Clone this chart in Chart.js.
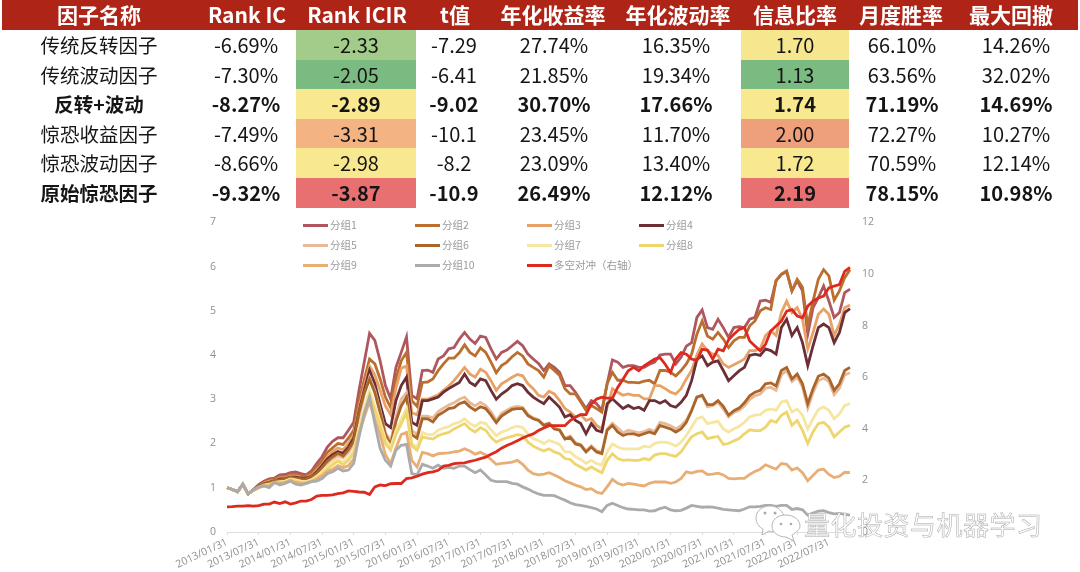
<!DOCTYPE html>
<html>
<head>
<meta charset="utf-8">
<title>因子表现</title>
<script src="https://cdn.jsdelivr.net/npm/chart.js@4"></script>
<style>
html, body { margin: 0; padding: 0; background: #fff; width: 1080px; height: 572px; overflow: hidden; font-family: "Noto Sans CJK SC", "Noto Sans", sans-serif; }
#stage { position: relative; width: 1080px; height: 572px; }
#header { position: absolute; left: 2px; top: 0; width: 1076px; height: 30px; background: #ae2417; }
.cell { position: absolute; width: 200px; text-align: center; color: #151515; font-size: 20px; white-space: nowrap; filter: blur(0.25px); }
.name { font-size: 19.5px; }
.head { color: #fff; font-weight: 700; font-size: 21px; line-height: 29px; top: 0; }
.bold { font-weight: 700; }
.fill { position: absolute; }
#chartBox { position: absolute; left: 170px; top: 212px; width: 730px; height: 360px; filter: blur(0.45px); }
.legLine { position: absolute; width: 25px; height: 3px; }
.legText { position: absolute; font-size: 10.5px; line-height: 14px; color: #9a9a9a; white-space: nowrap; }
#mark { position: absolute; left: 804px; top: 506px; font-size: 26px; line-height: 36px; letter-spacing: 0.5px; color: #fff; -webkit-text-stroke: 0.5px #a8a8a8; white-space: nowrap; }
#wechat { position: absolute; left: 754px; top: 503px; }
</style>
</head>
<body>
<div id="stage">
  <div id="header"></div>
  <div id="chartBox"><canvas id="factorChart" width="730" height="360"></canvas></div>
  <svg id="wechat" width="50" height="42" viewBox="0 0 50 42">
    <path d="M16 3 C6 3 2 10 2 15 C2 20 5 24 9 26 L8 32 L15 28 C18 29 21 28 24 27 C36 20 30 3 16 3 Z" fill="#fff" stroke="#b5b5b5"/>
    <path d="M32 12 C22 12 18 18 18 23 C18 30 25 34 32 34 L40 38 L38 32 C43 29 46 26 46 23 C46 17 40 12 32 12 Z" fill="#fff" stroke="#b5b5b5"/>
    <circle cx="11" cy="10" r="1.5" fill="#aaa"/><circle cx="21" cy="10" r="1.5" fill="#aaa"/>
    <circle cx="27" cy="21" r="1.3" fill="#aaa"/><circle cx="37" cy="21" r="1.3" fill="#aaa"/>
  </svg>
  <div id="mark">量化投资与机器学习</div>
</div>
<script>
// table
const tableHeaders = ['因子名称', 'Rank IC', 'Rank ICIR', 't值', '年化收益率', '年化波动率', '信息比率', '月度胜率', '最大回撤'];
const factorNames = ['传统反转因子', '传统波动因子', '反转+波动', '惊恐收益因子', '惊恐波动因子', '原始惊恐因子'];
const rankIC = ['-6.69%', '-7.30%', '-8.27%', '-7.49%', '-8.66%', '-9.32%'];
const rankICIR = ['-2.33', '-2.05', '-2.89', '-3.31', '-2.98', '-3.87'];
const tValues = ['-7.29', '-6.41', '-9.02', '-10.1', '-8.2', '-10.9'];
const annReturn = ['27.74%', '21.85%', '30.70%', '23.45%', '23.09%', '26.49%'];
const annVol = ['16.35%', '19.34%', '17.66%', '11.70%', '13.40%', '12.12%'];
const infoRatio = ['1.70', '1.13', '1.74', '2.00', '1.72', '2.19'];
const winRate = ['66.10%', '63.56%', '71.19%', '72.27%', '70.59%', '78.15%'];
const maxDrawdown = ['14.26%', '32.02%', '14.69%', '10.27%', '12.14%', '10.98%'];
const boldRows = [2, 5];
const icirColors = ['#a3cc8a', '#7bbb82', '#f8e88f', '#f3b383', '#f8e88f', '#e97070'];
const irColors = ['#f6e78e', '#7bbb82', '#f8e88f', '#ee9f7c', '#f8e88f', '#e97070'];

// chart
const tickYears = [2013, 2014, 2015, 2016, 2017, 2018, 2019, 2020, 2021, 2022];
const seriesNames = ['分组1', '分组2', '分组3', '分组4', '分组5', '分组6', '分组7', '分组8', '分组9', '分组10', '多空对冲（右轴）'];
const seriesColors = ['#b0565e', '#bb6f2e', '#e8a268', '#6b2f35', '#e8b998', '#a9652a', '#f5e6a2', '#efd56d', '#e8ae74', '#ababab', '#dd2a1f'];

const group1 = [1,.96,.91,1.08,.86,.96,1.07,1.15,1.2,1.22,
  1.29,1.3,1.34,1.36,1.32,1.29,1.38,1.55,1.7,1.92,
  2.05,2.13,2.13,2.3,2.48,3.2,3.84,4.49,4.33,3.87,
  3.31,3.01,3.72,4.06,4.41,3.09,3.01,3.65,3.66,3.61,
  3.91,3.98,4.14,4.17,4.36,4.51,4.36,4.26,4.43,4.4,
  4.14,3.91,4.06,4.11,4.21,4.31,4.21,4.02,3.91,3.81,
  3.65,3.8,3.72,3.61,3.31,3.31,3.16,2.97,2.79,2.97,
  2.9,2.75,3.35,3.89,3.84,3.72,3.76,3.76,3.72,3.72,
  3.79,3.84,4,4.02,4.02,3.8,3.95,4.2,4.28,4.85,
  5.02,4.62,4.58,4.81,4.62,4.4,4.62,4.64,4.62,4.81,
  4.85,5.22,5.24,5.19,5.68,5.82,5.88,5.45,5.68,5.45,
  4.47,5.07,5.3,5.56,5.22,4.85,4.96,5.41,5.49];
const group2 = [1,.96,.91,1.08,.86,.95,1.05,1.12,1.17,1.2,
  1.25,1.25,1.3,1.3,1.27,1.26,1.33,1.47,1.6,1.8,
  1.9,2,1.98,2.12,2.3,2.95,3.45,3.91,3.8,3.46,
  3.05,2.81,3.46,3.87,4.06,2.97,2.84,3.38,3.39,3.46,
  3.65,3.8,3.93,3.93,4.05,4.23,4.06,3.98,4.16,4.06,
  3.84,3.6,3.76,3.84,3.96,4.06,3.98,3.8,3.72,3.65,
  3.5,3.76,3.65,3.54,3.24,3.12,3.12,2.94,2.75,2.86,
  2.79,2.71,3.35,3.61,3.43,3.43,3.38,3.38,3.37,3.41,
  3.43,3.35,3.65,3.65,3.61,3.53,3.65,3.8,4.02,4.47,
  4.77,4.43,4.36,4.51,4.36,4.17,4.32,4.4,4.4,4.66,
  4.77,5,5.07,5.03,5.68,5.83,5.9,5.45,5.71,5.53,
  4.66,5.22,5.71,5.93,5.79,5.24,5.45,5.75,5.93];
const group3 = [1,.96,.91,1.07,.86,.95,1.03,1.1,1.15,1.16,
  1.22,1.22,1.26,1.26,1.24,1.23,1.28,1.4,1.52,1.7,
  1.82,1.9,1.86,2,2.2,2.8,3.3,3.75,3.55,3.2,
  2.85,2.65,3.25,3.7,3.75,2.7,2.65,3,3,3.05,
  3.1,3.2,3.3,3.42,3.57,3.72,3.57,3.5,3.68,3.61,
  3.42,3.2,3.35,3.42,3.5,3.56,3.53,3.35,3.24,3.09,
  3.05,3.18,3.12,2.97,2.79,2.71,2.6,2.65,2.52,2.56,
  2.41,2.33,2.82,3.24,3.16,3.09,3.12,3.09,3.09,3.01,
  3.01,3.31,3.31,3.24,3.16,3.12,3.24,3.46,3.65,4,
  4.25,4.1,4.02,3.99,3.8,3.72,3.78,3.84,3.91,4.1,
  4.1,4.14,4.44,4.55,4.44,4.96,5.22,4.96,5.07,4.81,
  4.14,4.51,4.92,5.04,4.92,4.44,4.7,5.07,5.13];
const group4 = [1,.96,.91,1.07,.86,.95,1.03,1.09,1.12,1.15,
  1.2,1.2,1.24,1.24,1.22,1.22,1.26,1.36,1.5,1.65,
  1.75,1.82,1.78,1.92,2.12,2.72,3.2,3.65,3.35,2.89,
  2.45,2.36,2.97,3.31,3.5,2.48,2.41,2.97,2.97,3.01,
  3.05,3.16,3.24,3.31,3.38,3.57,3.38,3.31,3.46,3.42,
  3.2,3,3.12,3.2,3.31,3.35,3.31,3.16,3.05,2.97,
  2.9,3.05,2.94,2.82,2.6,2.65,2.52,2.45,2.22,2.45,
  2.3,2.26,2.9,3.01,2.9,2.79,2.86,2.79,2.82,2.75,
  2.97,2.97,2.91,2.97,2.86,2.82,2.93,3.09,3.42,3.9,
  3.98,3.76,3.84,3.87,3.65,3.42,3.53,3.64,3.72,3.99,
  4.02,3.99,4.14,4.1,4.02,4.62,4.81,4.44,4.62,4.28,
  3.76,4.21,4.62,4.7,4.62,4.28,4.51,4.96,5.05];
const group5 = [1,.96,.91,1.07,.86,.94,1.02,1.07,1.1,1.14,
  1.16,1.17,1.22,1.2,1.18,1.18,1.23,1.3,1.42,1.55,
  1.65,1.72,1.68,1.8,2,2.6,3.1,3.5,3.2,2.75,
  2.25,2.05,2.6,3,3.15,2.3,2.2,2.62,2.62,2.58,
  2.72,2.8,2.87,2.92,3,3.05,2.92,2.85,2.93,2.86,
  2.72,2.52,2.68,2.75,2.82,2.84,2.82,2.66,2.58,2.54,
  2.43,2.46,2.35,2.32,2.12,2.17,2.02,1.98,1.83,1.95,
  1.84,1.8,2.33,2.46,2.35,2.24,2.3,2.27,2.24,2.27,
  2.32,2.27,2.48,2.45,2.4,2.33,2.4,2.53,2.76,3.05,
  3.07,2.83,2.86,2.93,2.78,2.6,2.7,2.75,2.85,3,
  3.08,3.12,3.25,3.27,3.2,3.55,3.65,3.4,3.5,3.28,
  2.8,3.15,3.42,3.48,3.4,3.1,3.25,3.55,3.6];
const group6 = [1,.96,.92,1.07,.86,.95,1.02,1.08,1.12,1.16,
  1.18,1.19,1.24,1.22,1.2,1.2,1.25,1.33,1.46,1.6,
  1.7,1.78,1.72,1.86,2.05,2.7,3.15,3.45,3.15,2.7,
  2.2,1.97,2.5,2.85,3.05,2.2,2.12,2.56,2.56,2.49,
  2.64,2.71,2.79,2.81,2.9,2.94,2.83,2.75,2.83,2.79,
  2.64,2.47,2.62,2.7,2.77,2.79,2.79,2.63,2.56,2.52,
  2.41,2.45,2.33,2.3,2.1,2.14,1.99,1.96,1.81,1.92,
  1.81,1.77,2.3,2.41,2.26,2.18,2.22,2.22,2.18,2.22,
  2.26,2.22,2.41,2.37,2.33,2.26,2.33,2.48,2.74,3.05,
  3.09,2.88,2.88,2.97,2.84,2.64,2.74,2.8,2.92,3.08,
  3.16,3.2,3.35,3.37,3.3,3.65,3.72,3.46,3.57,3.35,
  2.9,3.24,3.52,3.57,3.48,3.2,3.35,3.65,3.72];
const group7 = [1,.96,.91,1.07,.87,.94,1.01,1.06,1.08,1.12,
  1.14,1.15,1.2,1.18,1.15,1.14,1.18,1.26,1.36,1.48,
  1.58,1.65,1.58,1.68,1.85,2.35,2.8,3.2,2.85,2.5,
  2.1,1.92,2.3,2.55,2.8,2,1.92,2.25,2.2,2.2,
  2.3,2.35,2.38,2.45,2.48,2.56,2.45,2.39,2.48,2.45,
  2.31,2.18,2.26,2.3,2.36,2.39,2.36,2.22,2.11,2.07,
  2,2.07,2.03,1.98,1.81,1.81,1.7,1.64,1.55,1.62,
  1.55,1.51,1.81,1.99,1.92,1.88,1.88,1.88,1.88,1.94,
  1.92,2,2.03,2.03,2,1.94,2.03,2.18,2.37,2.56,
  2.6,2.45,2.48,2.5,2.33,2.26,2.33,2.39,2.48,2.6,
  2.64,2.65,2.75,2.78,2.75,2.94,2.97,2.71,2.78,2.64,
  2.33,2.56,2.77,2.83,2.75,2.56,2.67,2.86,2.9];
const group8 = [1,.96,.91,1.07,.87,.94,1,1.05,1.07,1.11,
  1.12,1.13,1.18,1.15,1.12,1.12,1.15,1.22,1.3,1.42,
  1.52,1.6,1.52,1.62,1.78,2.25,2.7,3.1,2.75,2.4,
  2,1.85,2.2,2.45,2.7,1.95,1.85,2.15,2.12,2.1,
  2.18,2.22,2.25,2.33,2.39,2.45,2.33,2.26,2.36,2.3,
  2.14,2.03,2.09,2.13,2.16,2.2,2.18,2.03,1.94,1.88,
  1.83,1.88,1.81,1.77,1.66,1.64,1.53,1.47,1.4,1.47,
  1.4,1.34,1.62,1.77,1.66,1.62,1.63,1.62,1.62,1.66,
  1.63,1.74,1.77,1.77,1.74,1.71,1.81,1.99,2.15,2.22,
  2.26,2.11,2.14,2.16,1.98,2,2.06,2.11,2.22,2.31,
  2.29,2.29,2.37,2.52,2.48,2.64,2.71,2.41,2.52,2.3,
  2,2.26,2.45,2.48,2.37,2.15,2.26,2.37,2.41];
const group9 = [1,.96,.91,1.07,.87,.94,1,1.04,1.05,1.12,
  1.1,1.12,1.17,1.12,1.1,1.1,1.14,1.2,1.27,1.37,
  1.42,1.5,1.45,1.5,1.65,2.2,2.6,2.95,2.55,2.2,
  1.75,1.55,1.9,2.2,2.25,1.62,1.47,1.8,1.77,1.72,
  1.77,1.78,1.79,1.81,1.83,1.88,1.83,1.76,1.8,1.74,
  1.64,1.53,1.55,1.56,1.58,1.62,1.53,1.4,1.32,1.29,
  1.31,1.34,1.29,1.23,1.16,1.11,1.06,1.02,.96,.98,
  .9,.87,1.02,1.19,1.1,1.06,1.1,1.08,1.06,1.04,
  1.1,1.13,1.13,1.13,1.1,1.13,1.21,1.36,1.33,1.37,
  1.38,1.3,1.31,1.33,1.29,1.21,1.2,1.21,1.21,1.3,
  1.37,1.42,1.52,1.47,1.42,1.55,1.53,1.4,1.45,1.34,
  1.16,1.28,1.4,1.42,1.3,1.23,1.26,1.35,1.34];
const group10 = [1,.96,.91,1.08,.86,.95,1.02,1.04,1,1.12,
  1.06,1.1,1.15,1.08,1.06,1.1,1.14,1.15,1.21,1.32,
  1.36,1.44,1.38,1.4,1.55,2.15,2.68,3.05,2.45,1.89,
  1.62,1.49,1.85,1.96,1.98,1.32,1.29,1.53,1.49,1.44,
  1.51,1.44,1.46,1.44,1.49,1.49,1.41,1.34,1.4,1.29,
  1.17,1.14,1.14,1.14,1.1,1.08,1.02,.97,.91,.86,
  .83,.83,.82,.77,.72,.66,.62,.6,.58,.55,
  .52,.46,.6,.65,.6,.55,.52,.51,.5,.5,
  .47,.48,.53,.56,.5,.48,.49,.54,.6,.58,
  .56,.57,.56,.54,.51,.5,.49,.48,.52,.57,
  .57,.58,.6,.6,.58,.6,.6,.51,.53,.5,
  .38,.43,.47,.48,.44,.41,.42,.4,.38];
const longShort = [.97,.98,1,1,1.02,1,1.02,1.08,1.08,1.16,
  1.1,1.17,1.08,1.13,1.2,1.2,1.26,1.39,1.42,1.42,
  1.44,1.49,1.52,1.59,1.57,1.55,1.54,1.45,1.75,1.82,
  1.8,1.87,1.88,1.88,2.07,2.1,2.16,2.24,2.3,2.33,
  2.39,2.55,2.58,2.65,2.67,2.68,2.74,2.78,2.84,2.9,
  3.01,3.11,3.25,3.35,3.44,3.54,3.64,3.73,3.8,3.93,
  4.03,4.12,4.12,4.12,4.12,4.32,4.45,4.55,4.55,4.96,
  5.15,5.22,5.19,5.19,5.6,5.92,6.25,6.38,6.25,6.44,
  6.57,6.7,6.76,6.5,6.18,6.7,6.95,6.89,6.7,6.64,
  7.08,7.05,6.7,7.08,7.02,7.45,7.66,7.85,7.92,7.4,
  7.21,7.02,7.27,7.79,7.98,8.17,8.56,8.62,8.37,8.3,
  8.75,8.95,9.07,9.14,9.46,9.53,9.59,10.1,10.25];

const allSeries = [group1, group2, group3, group4, group5, group6, group7, group8, group9, group10, longShort];

// month-end dates for the category axis
const dates = [];
tickYears.forEach(function(y) {
    for (let m = 1; m <= 12 && dates.length < group1.length; m++) {
        const last = new Date(y, m, 0).getDate();
        dates.push(y + '/' + String(m).padStart(2, '0') + '/' + last);
    }
});

// table cells
const stage = document.getElementById('stage');
const headCenters = [99, 247, 357, 455, 553, 678, 795, 901, 1011];
const columnCenters = [99, 246, 356, 454, 554, 676, 795, 902, 1016];
const rowTops = [30, 60, 89, 119, 148, 178];
const rowHeights = [30, 29, 30, 29, 30, 30];
const columns = [factorNames, rankIC, rankICIR, tValues, annReturn, annVol, infoRatio, winRate, maxDrawdown];

function addFill(left, width, colors) {
    colors.forEach(function(c, r) {
        const d = document.createElement('div');
        d.className = 'fill';
        d.style.cssText = 'left:' + left + 'px;width:' + width + 'px;top:' + rowTops[r] + 'px;height:' + rowHeights[r] + 'px;background:' + c;
        stage.insertBefore(d, stage.firstChild);
    });
}
addFill(296, 120, icirColors);
addFill(741, 108, irColors);

tableHeaders.forEach(function(h, c) {
    const d = document.createElement('div');
    d.className = 'cell head';
    d.style.left = (headCenters[c] - 100) + 'px';
    d.textContent = h;
    stage.appendChild(d);
});
columns.forEach(function(col, c) {
    col.forEach(function(v, r) {
        const d = document.createElement('div');
        d.className = 'cell' + (c === 0 ? ' name' : '') + (boldRows.includes(r) ? ' bold' : '');
        d.style.left = (columnCenters[c] - 100) + 'px';
        d.style.top = rowTops[r] + 'px';
        d.style.lineHeight = rowHeights[r] + 'px';
        d.textContent = v;
        stage.appendChild(d);
    });
});

// legend, 4 columns by 3 rows
const legendX = [303, 415, 527, 639];
const legendY = [225, 245, 265];
seriesNames.forEach(function(name, i) {
    const x = legendX[i % 4], y = legendY[Math.floor(i / 4)];
    const line = document.createElement('div');
    line.className = 'legLine';
    line.style.cssText = 'left:' + x + 'px;top:' + (y - 1) + 'px;background:' + seriesColors[i];
    const text = document.createElement('div');
    text.className = 'legText';
    text.style.cssText = 'left:' + (x + 27) + 'px;top:' + (y - 7) + 'px';
    text.textContent = name;
    stage.appendChild(line);
    stage.appendChild(text);
});

// chart
const ctx = document.getElementById('factorChart').getContext('2d');
new Chart(ctx, {
    type: 'line',
    data: {
        labels: dates,
        datasets: allSeries.map(function(values, i) {
            return {
                label: seriesNames[i],
                data: values,
                borderColor: seriesColors[i],
                borderWidth: 2.8,
                pointRadius: 0,
                tension: 0,
                borderJoinStyle: 'miter',
                order: -i,
                yAxisID: i === 10 ? 'y2' : 'y'
            };
        })
    },
    options: {
        responsive: false,
        animation: false,
        layout: { padding: 0 },
        plugins: { legend: { display: false }, tooltip: { enabled: false } },
        scales: {
            x: {
                grid: { drawOnChartArea: false, color: '#dddddd', tickLength: 3 },
                border: { color: '#dddddd' },
                afterFit: function(axis) { axis.height = 40; },
                ticks: {
                    autoSkip: false,
                    minRotation: 25,
                    maxRotation: 25,
                    padding: 1,
                    color: '#8f8f8f',
                    font: { size: 10.5, family: 'Open Sans' },
                    callback: function(value, index) {
                        return index % 6 === 0 ? dates[index] : null;
                    }
                }
            },
            y: {
                position: 'left',
                min: 0,
                max: 7,
                grid: { display: false },
                border: { display: false },
                afterFit: function(axis) { axis.width = 57; },
                ticks: { stepSize: 1, padding: 3, color: '#8f8f8f', font: { size: 10.5, family: 'Open Sans' } }
            },
            y2: {
                position: 'right',
                min: 0,
                max: 12,
                grid: { display: false },
                border: { display: false },
                afterFit: function(axis) { axis.width = 50; },
                ticks: { stepSize: 2, padding: 4, color: '#8f8f8f', font: { size: 10.5, family: 'Open Sans' } }
            }
        }
    }
});
</script>
</body>
</html>
